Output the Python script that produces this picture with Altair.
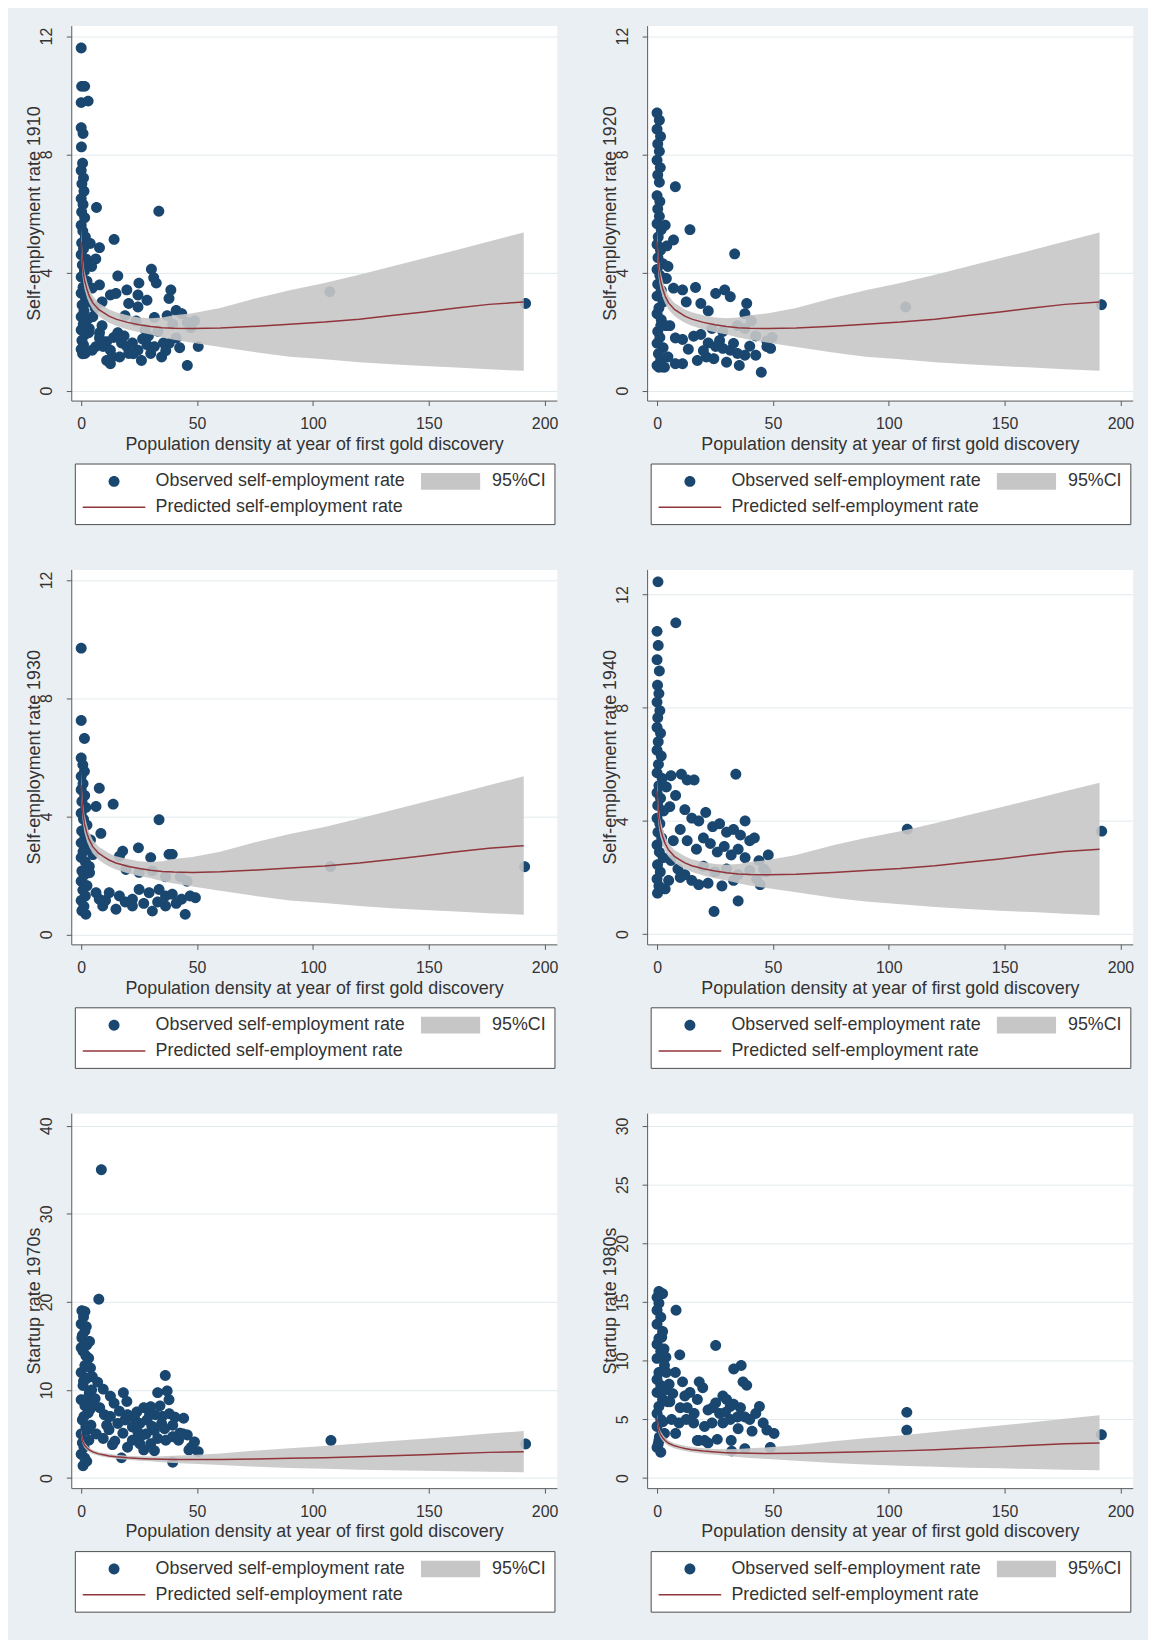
import altair as alt
import pandas as pd

FONT = "Liberation Sans"
OBS = "Observed self-employment rate"
CI = "95%CI"
PRED = "Predicted self-employment rate"
# legend fills column by column: column 1 = observed, predicted; column 2 = CI
SERIES = [OBS, PRED, CI]
SERIES_COLORS = ["#1a476f", "#90353b", "#c6c6c6"]
SERIES_SHAPES = [
    "M-0.55,0A0.55,0.55,0,1,1,0.55,0A0.55,0.55,0,1,1,-0.55,0Z",
    "M-3.15,-0.08H3.15V0.08H-3.15Z",
    "M-2.98,-0.84H2.98V0.84H-2.98Z",
]

X_TITLE = "Population density at year of first gold discovery"
X_TICKS = [0, 50, 100, 150, 200]

# fitted curve and 95% CI (same in every panel)
fit_density = [0, 0.3, 0.7, 1.4, 2.5, 3.5, 5, 7.5, 10, 12, 15, 20, 25, 30, 35, 40, 48,
               60, 76, 90, 105, 120, 134, 148, 162, 176, 191]
fit_pred = [5.05, 4.6, 4.15, 3.75, 3.42, 3.2, 2.97, 2.75, 2.62, 2.52, 2.42, 2.31, 2.23,
            2.17, 2.13, 2.11, 2.10, 2.12, 2.18, 2.25, 2.32, 2.42, 2.54, 2.66, 2.80, 2.92, 3.0]
fit_hi = [5.5, 5.0, 4.5, 4.05, 3.7, 3.45, 3.2, 2.97, 2.85, 2.75, 2.65, 2.55, 2.48,
          2.45, 2.48, 2.55, 2.62, 2.8, 3.14, 3.4, 3.64, 3.92, 4.2, 4.48, 4.76, 5.05, 5.35]
fit_lo = [4.6, 4.2, 3.8, 3.45, 3.14, 2.95, 2.74, 2.53, 2.39, 2.3, 2.2, 2.07, 1.98,
          1.9, 1.8, 1.72, 1.62, 1.48, 1.29, 1.15, 1.06, 0.96, 0.89, 0.83, 0.78, 0.72, 0.67]

obs_1910 = [
    (0.0, 11.6), (0.2, 10.3), (1.5, 10.3), (0.0, 9.75), (3.0, 9.8), (0.0, 8.9), (0.8, 8.7),
    (0.1, 8.25), (0.6, 7.7), (0.0, 7.45), (1.0, 7.2), (0.3, 7.0), (1.2, 6.75), (0.0, 6.5),
    (0.8, 6.3), (0.2, 6.05), (1.5, 5.85), (0.0, 5.6), (0.7, 5.4), (1.8, 5.2), (0.2, 5.0),
    (1.0, 4.8), (0.0, 4.6), (2.2, 4.45), (0.5, 4.25), (1.4, 4.05), (0.0, 3.85), (2.5, 3.7),
    (0.8, 3.5), (0.0, 3.3), (1.8, 3.15), (3.2, 3.0), (0.4, 2.9), (1.2, 2.7), (0.0, 2.5),
    (2.6, 2.4), (0.9, 2.25), (0.0, 2.05), (1.6, 1.9), (3.5, 2.1), (0.3, 1.7), (1.0, 1.55),
    (0.0, 1.4), (2.0, 1.3), (0.6, 1.25),
    (6.6, 6.2), (33.5, 6.07), (14.2, 5.12), (7.9, 4.84), (3.9, 4.98), (6.3, 4.46), (4.5, 4.2),
    (15.8, 3.88), (30.3, 4.11), (31.3, 3.82), (32.4, 3.64), (24.9, 3.64), (19.7, 3.41),
    (12.6, 3.24), (15.0, 3.29), (7.9, 3.58), (4.7, 3.47), (38.7, 3.41), (37.9, 3.12),
    (24.5, 3.24), (28.4, 3.06), (41.0, 2.71), (43.4, 2.6), (24.5, 2.83), (20.5, 2.95),
    (9.0, 3.0), (6.0, 2.8),
    (18.9, 2.54), (23.7, 2.36), (31.6, 2.48), (37.1, 2.54), (39.5, 2.25), (45.8, 2.31),
    (48.9, 2.36), (47.4, 2.13), (41.0, 1.78), (33.1, 2.01), (27.6, 2.07), (107.3, 3.35),
    (191.8, 2.95),
    (3.2, 1.96), (7.9, 1.78), (11.0, 1.66), (9.5, 1.49), (12.6, 1.37), (15.8, 1.96),
    (17.4, 1.61), (19.7, 1.49), (22.1, 1.61), (24.5, 1.37), (26.0, 1.02), (28.4, 1.55),
    (30.0, 1.26), (31.6, 1.49), (34.7, 1.14), (35.5, 1.61), (12.6, 0.91), (11.0, 1.02),
    (16.6, 1.14), (20.5, 1.26), (6.3, 1.49), (50.5, 1.49), (45.8, 0.85), (7.9, 1.96),
    (4.7, 1.37), (1.6, 1.26), (14.0, 1.8), (26.5, 1.75), (38.0, 1.6), (9.0, 2.2), (5.0, 2.5),
    (13.5, 1.15), (18.5, 1.85), (22.5, 1.25), (29.0, 1.85), (36.5, 1.35), (42.5, 1.45),
]

obs_1920 = [
    (0.0, 9.4), (1.0, 9.15), (0.0, 8.85), (1.5, 8.6), (0.3, 8.35), (1.0, 8.1), (0.0, 7.8),
    (1.4, 7.55), (0.3, 7.3), (1.0, 7.05), (0.0, 6.6), (1.2, 6.4), (0.3, 6.15), (1.0, 5.9),
    (0.0, 5.65), (1.8, 5.45), (0.5, 5.2), (0.0, 4.95), (1.5, 4.75), (0.4, 4.5), (2.5, 4.3),
    (0.0, 4.1), (1.2, 3.9), (3.5, 3.8), (0.3, 3.6), (1.8, 3.4), (0.0, 3.2), (2.6, 3.0),
    (0.8, 2.8), (0.0, 2.6), (1.8, 2.4), (3.8, 2.2), (0.3, 2.0), (1.2, 1.8), (0.0, 1.6),
    (2.6, 1.45), (0.6, 1.25), (1.6, 1.05), (0.0, 0.85), (2.2, 0.8),
    (7.9, 6.9), (14.2, 5.45), (7.1, 5.1), (33.5, 4.63), (3.5, 5.6), (4.2, 4.9), (4.7, 4.2),
    (4.0, 3.8), (7.1, 3.47), (11.0, 3.41), (16.6, 3.49), (25.3, 3.29), (29.2, 3.41),
    (31.6, 3.18), (38.7, 2.95), (37.9, 2.6), (40.7, 2.36),
    (18.9, 2.95), (12.6, 3.0), (22.1, 2.7), (23.7, 2.1), (28.4, 2.0), (34.7, 2.2),
    (37.9, 2.1), (42.6, 1.85), (47.4, 1.68), (49.7, 1.8), (107.3, 2.83), (191.8, 2.91),
    (1.6, 2.2), (5.5, 2.2), (7.9, 1.78), (11.0, 1.73), (15.8, 1.84), (18.9, 1.9),
    (22.1, 1.61), (25.3, 1.49), (28.4, 1.43), (31.6, 1.37), (34.7, 1.26), (37.9, 1.2),
    (42.6, 1.2), (47.4, 1.49), (49.0, 1.43), (7.9, 0.91), (11.0, 0.91), (17.4, 1.02),
    (21.3, 1.14), (24.5, 1.08), (30.0, 0.96), (35.5, 0.85), (45.0, 0.62), (3.2, 0.79),
    (0.8, 0.79), (4.7, 1.14), (13.5, 1.4), (20.0, 1.35), (27.0, 1.7), (33.0, 1.6), (40.0, 1.5),
]

obs_1930 = [
    (0.0, 9.69), (0.0, 7.24), (1.4, 6.63), (0.0, 5.97), (0.7, 5.74), (1.4, 5.52), (0.0, 5.35),
    (0.8, 5.1), (0.0, 4.9), (1.5, 4.7), (0.3, 4.5), (2.0, 4.3), (0.0, 4.1), (1.0, 3.9),
    (2.5, 3.7), (0.2, 3.5), (1.6, 3.3), (0.0, 3.1), (2.8, 2.95), (0.8, 2.8), (0.0, 2.6),
    (1.8, 2.45), (3.5, 2.3), (0.3, 2.15), (1.2, 2.0), (0.0, 1.8), (2.5, 1.65), (0.7, 1.5),
    (1.8, 1.3), (0.0, 1.15), (1.2, 0.95), (0.3, 0.8), (2.0, 0.68),
    (7.8, 4.95), (6.4, 4.33), (13.8, 4.41), (8.5, 3.42), (33.6, 3.88), (24.7, 2.93),
    (17.9, 2.82), (16.5, 2.65), (30.0, 2.6), (37.9, 2.71), (39.3, 2.71), (4.0, 3.2), (5.0, 2.7),
    (19.3, 2.2), (25.0, 2.1), (30.7, 2.15), (36.4, 1.95), (42.8, 1.95), (45.7, 1.8),
    (107.6, 2.29), (191.4, 2.29),
    (7.8, 1.19), (12.1, 1.41), (16.5, 1.3), (22.1, 1.19), (25.0, 1.52), (29.3, 1.41),
    (33.6, 1.52), (36.4, 1.3), (39.3, 1.36), (43.3, 1.19), (49.3, 1.24), (9.3, 0.96),
    (15.0, 0.85), (22.1, 0.96), (30.7, 0.79), (36.4, 0.96), (44.9, 0.68), (6.4, 1.41),
    (3.6, 2.09), (2.1, 1.64), (10.5, 1.15), (19.0, 1.1), (27.0, 1.05), (33.0, 1.1),
    (41.0, 1.05), (47.0, 1.3),
]

obs_1940 = [
    (0.4, 12.45), (8.1, 11.0),
    (0.0, 10.7), (0.5, 10.2), (0.0, 9.7), (1.0, 9.3), (0.2, 8.8), (0.8, 8.5), (0.0, 8.2),
    (1.2, 7.9), (0.3, 7.65), (0.0, 7.3), (1.5, 7.1), (0.5, 6.8), (0.0, 6.5), (1.8, 6.3),
    (0.6, 6.0), (0.0, 5.7), (2.2, 5.5), (0.8, 5.25), (0.0, 5.0), (1.5, 4.8), (0.3, 4.55),
    (2.8, 4.35), (0.0, 4.1), (1.2, 3.9), (0.4, 3.6), (2.0, 3.4), (0.0, 3.15), (1.0, 2.9),
    (2.6, 2.7), (0.2, 2.45), (1.4, 2.2), (0.0, 1.95), (0.8, 1.7), (0.2, 1.45),
    (6.0, 5.6), (10.5, 5.65), (13.0, 5.45), (16.0, 5.45), (34.0, 5.65), (4.0, 5.2),
    (8.0, 4.9), (5.5, 4.5), (12.0, 4.4), (15.0, 4.1), (18.0, 4.0), (21.0, 4.3), (24.0, 3.8),
    (27.0, 3.9), (30.0, 3.6), (33.0, 3.7), (38.0, 4.0), (36.0, 3.5), (40.0, 3.3), (42.0, 3.4),
    (10.0, 3.7), (7.0, 3.3), (13.0, 3.3), (17.0, 3.0), (20.0, 3.4), (23.0, 3.2), (26.0, 2.9),
    (29.0, 3.1), (32.0, 2.8), (35.0, 3.0), (38.0, 2.7), (44.0, 2.6), (48.0, 2.8), (46.0, 2.3),
    (20.0, 2.4), (25.0, 2.2), (30.0, 2.3), (35.0, 2.1), (40.0, 2.25), (43.0, 1.95),
    (47.0, 2.2), (44.5, 1.75),
    (6.0, 2.6), (9.0, 2.3), (12.0, 2.1), (15.0, 1.9), (18.0, 1.75), (22.0, 1.8), (28.0, 1.7),
    (33.0, 1.9), (24.6, 0.8), (35.0, 1.17), (10.0, 2.0), (5.0, 1.9), (3.5, 1.6),
    (108.0, 3.71), (191.9, 3.64),
]

obs_1970s = [
    (0.3, 19.0), (1.0, 18.3), (0.0, 17.5), (1.6, 16.7), (0.3, 15.9), (2.4, 15.1), (0.8, 14.4),
    (3.2, 13.6), (1.6, 12.8), (0.0, 12.0), (2.4, 11.3), (0.8, 10.5), (3.5, 9.7), (0.0, 8.9),
    (1.6, 8.2), (3.0, 7.4), (0.5, 6.6), (2.0, 5.8), (0.0, 5.0), (3.3, 4.3), (1.2, 3.5),
    (0.0, 2.7), (2.4, 1.9), (0.8, 1.4), (1.6, 18.9), (0.5, 16.2), (2.0, 13.9), (1.0, 11.0),
    (2.5, 9.0), (1.2, 7.0), (2.8, 5.5), (0.5, 4.0), (1.5, 2.3), (4.0, 12.5), (4.5, 10.0),
    (3.8, 7.8), (4.2, 6.0), (0.0, 14.8), (2.2, 17.2), (3.6, 15.5), (4.8, 11.5), (5.2, 8.5),
    (8.7, 35.0), (7.6, 20.3), (36.3, 11.65),
    (7.1, 10.9), (9.5, 10.1), (12.6, 9.3), (14.2, 8.5), (18.2, 9.7), (19.7, 8.7), (33.0, 9.7),
    (37.9, 8.9), (37.1, 9.9), (44.2, 6.8), (6.0, 9.0), (8.0, 8.0), (10.0, 7.2), (12.6, 7.0),
    (15.8, 6.2), (18.9, 6.6), (22.1, 5.8), (25.3, 6.2), (28.4, 6.6), (31.6, 5.4), (34.7, 6.2),
    (39.5, 6.0), (42.6, 5.1), (45.8, 4.9), (48.9, 4.1), (50.5, 3.0), (22.1, 4.3), (25.3, 3.9),
    (30.0, 3.9), (31.6, 3.1), (17.4, 2.3), (39.5, 4.7), (39.5, 1.8), (6.5, 5.0), (9.5, 4.5),
    (12.0, 5.5), (14.5, 4.2), (20.0, 7.2), (24.0, 7.5), (27.0, 8.0), (30.0, 8.1), (32.0, 7.2),
    (35.0, 7.0), (38.0, 7.3), (42.0, 4.3), (46.5, 3.2), (28.0, 5.0), (33.0, 4.5), (20.0, 3.5),
    (26.0, 4.8), (36.0, 5.6), (44.0, 5.0), (47.5, 3.5), (11.0, 6.0), (16.5, 7.6), (23.0, 6.8),
    (29.5, 7.2), (34.0, 8.2), (40.5, 6.9), (13.5, 3.8), (18.0, 5.1), (24.5, 5.2), (30.5, 5.9),
    (36.5, 4.3), (27.0, 3.2),
    (107.8, 4.27), (191.8, 3.88),
]

obs_1980s = [
    (0.8, 15.9), (2.4, 15.7), (0.0, 15.4), (0.8, 14.9), (0.0, 14.3), (1.6, 13.7), (0.0, 13.1),
    (2.4, 12.5), (0.8, 11.9), (0.0, 11.4), (1.6, 10.8), (0.0, 10.2), (3.2, 9.6), (0.8, 9.0),
    (0.0, 8.4), (1.6, 7.9), (0.0, 7.3), (2.4, 6.7), (0.8, 6.1), (0.0, 5.5), (1.6, 5.0),
    (0.0, 4.4), (3.2, 3.8), (0.8, 3.2), (0.0, 2.6), (1.6, 2.2), (2.0, 12.0), (3.0, 11.0),
    (4.0, 9.0), (3.5, 7.5), (4.5, 6.5), (2.5, 4.8), (1.0, 3.5), (3.8, 10.3), (0.5, 2.9),
    (8.2, 14.3), (25.3, 11.3), (9.8, 10.5), (33.1, 9.3), (36.3, 9.6), (37.1, 8.2), (38.7, 7.9),
    (7.9, 9.0), (11.0, 8.2), (14.2, 7.3), (17.4, 6.7), (18.2, 8.2), (19.7, 7.7), (28.4, 7.0),
    (25.3, 6.4), (30.0, 6.7), (31.6, 6.1), (44.2, 6.1), (42.6, 5.5), (45.8, 4.7), (41.0, 4.0),
    (47.4, 4.1), (50.5, 3.8), (6.3, 5.0), (9.5, 4.7), (12.6, 5.0), (15.8, 4.7), (20.5, 4.4),
    (23.7, 4.7), (28.4, 4.7), (31.6, 5.0), (34.7, 5.2), (37.9, 5.2), (5.5, 6.5), (10.0, 6.0),
    (13.0, 6.0), (16.0, 5.5), (22.0, 5.8), (27.0, 5.5), (33.0, 6.3), (8.0, 3.8), (18.0, 3.2),
    (22.0, 3.0), (26.0, 3.3), (35.0, 4.2), (5.2, 8.0), (6.8, 7.2), (12.0, 7.0), (24.0, 6.0),
    (29.5, 5.6), (36.0, 6.0), (40.0, 5.0),
    (17.4, 3.2), (20.5, 3.2), (32.2, 2.3), (37.9, 2.5), (48.9, 2.6), (32.0, 3.2),
    (107.8, 5.6), (107.8, 4.08), (191.8, 3.7),
]

PANELS = [
    (obs_1910, "Self-employment rate 1910", [-0.336, 12.356], [0, 4, 8, 12]),
    (obs_1920, "Self-employment rate 1920", [-0.336, 12.356], [0, 4, 8, 12]),
    (obs_1930, "Self-employment rate 1930", [-0.336, 12.356], [0, 4, 8, 12]),
    (obs_1940, "Self-employment rate 1940", [-0.36, 12.89], [0, 4, 8, 12]),
    (obs_1970s, "Startup rate 1970s", [-1.14, 41.43], [0, 10, 20, 30, 40]),
    (obs_1980s, "Startup rate 1980s", [-0.855, 31.09], [0, 5, 10, 15, 20, 25, 30]),
]

W = 489
H = 377.6
TXT = "#333333"
AXC = "#5a5a5a"


def legend():
    return alt.Legend(
        title=None, orient="none", legendX=3.6, legendY=441, columns=2,
        symbolSize=400, symbolStrokeWidth=0, symbolOpacity=1, symbolOffset=21.5,
        labelFont=FONT, labelFontSize=18, labelColor=TXT, labelLimit=500,
        labelOffset=31.8, columnPadding=13.9, rowPadding=7, padding=8,
        fillColor="white", strokeColor="#4d4d4d", gridAlign="each",
    )


def panel(points, ytitle, ydomain, yticks):
    obs = pd.DataFrame(points, columns=["density", "rate"])
    obs["series"] = OBS
    fit = pd.DataFrame({"density": fit_density, "pred": fit_pred,
                        "lo": fit_lo, "hi": fit_hi})
    xscale = alt.Scale(domain=[-4.29, 205.3], nice=False, zero=False)
    yscale = alt.Scale(domain=ydomain, nice=False, zero=False)
    xaxis = alt.Axis(
        values=X_TICKS, title=X_TITLE, grid=False, labelFlush=False,
        labelBaseline="middle", labelPadding=18.3, titleY=44, titleBaseline="middle",
    )
    yaxis = alt.Axis(
        values=yticks, title=ytitle, grid=True, labelFlush=False,
        labelAngle=270, labelAlign="center", labelBaseline="middle", labelPadding=19.7,
        titleAngle=270, titleX=-37.2, titleY=H / 2, titleAlign="center",
        titleBaseline="middle",
    )
    pts = alt.Chart(obs).mark_point(filled=True, size=400, opacity=1, strokeWidth=0).encode(
        x=alt.X("density:Q", scale=xscale, axis=xaxis),
        y=alt.Y("rate:Q", scale=yscale, axis=yaxis),
        color=alt.Color("series:N", scale=alt.Scale(domain=SERIES, range=SERIES_COLORS),
                        legend=legend()),
        shape=alt.Shape("series:N", scale=alt.Scale(domain=SERIES, range=SERIES_SHAPES),
                        legend=legend()),
    )
    band = alt.Chart(fit).mark_area(color="#c6c6c6", opacity=0.9).encode(
        x=alt.X("density:Q", scale=xscale, axis=xaxis),
        y=alt.Y("hi:Q", scale=yscale, axis=yaxis),
        y2="lo:Q",
    )
    line = alt.Chart(fit).mark_line(color="#90353b", strokeWidth=1.5).encode(
        x=alt.X("density:Q", scale=xscale, axis=xaxis),
        y=alt.Y("pred:Q", scale=yscale, axis=yaxis),
    )
    return alt.layer(pts, band, line).properties(width=W, height=H)


charts = [panel(*p) for p in PANELS]

PAD_LEFT = 63.7
PAD_TOP = 12.0
TOTAL_W = 1148
TOTAL_H = 1632

chart = (
    alt.concat(*charts, columns=2, spacing={"row": 169.6, "column": 90.9}, bounds="flush")
    .resolve_scale(color="independent", shape="independent")
    .properties(
        background="#e9eff3",
        autosize=alt.AutoSizeParams(type="none"),
        padding={"left": PAD_LEFT, "top": PAD_TOP,
                 "right": TOTAL_W - PAD_LEFT, "bottom": TOTAL_H - PAD_TOP},
    )
    .configure_view(fill="white", stroke="transparent")
    .configure_axis(
        domainColor=AXC, domainWidth=1, tickColor=AXC, tickSize=5, tickWidth=1,
        labelFont=FONT, labelFontSize=16, labelColor=TXT,
        titleFont=FONT, titleFontSize=18, titleColor=TXT, titleFontWeight="normal",
        gridColor="#e3eaed", gridWidth=1,
    )
)

chart.save("out.html", embed_options={"renderer": "svg", "actions": False})
